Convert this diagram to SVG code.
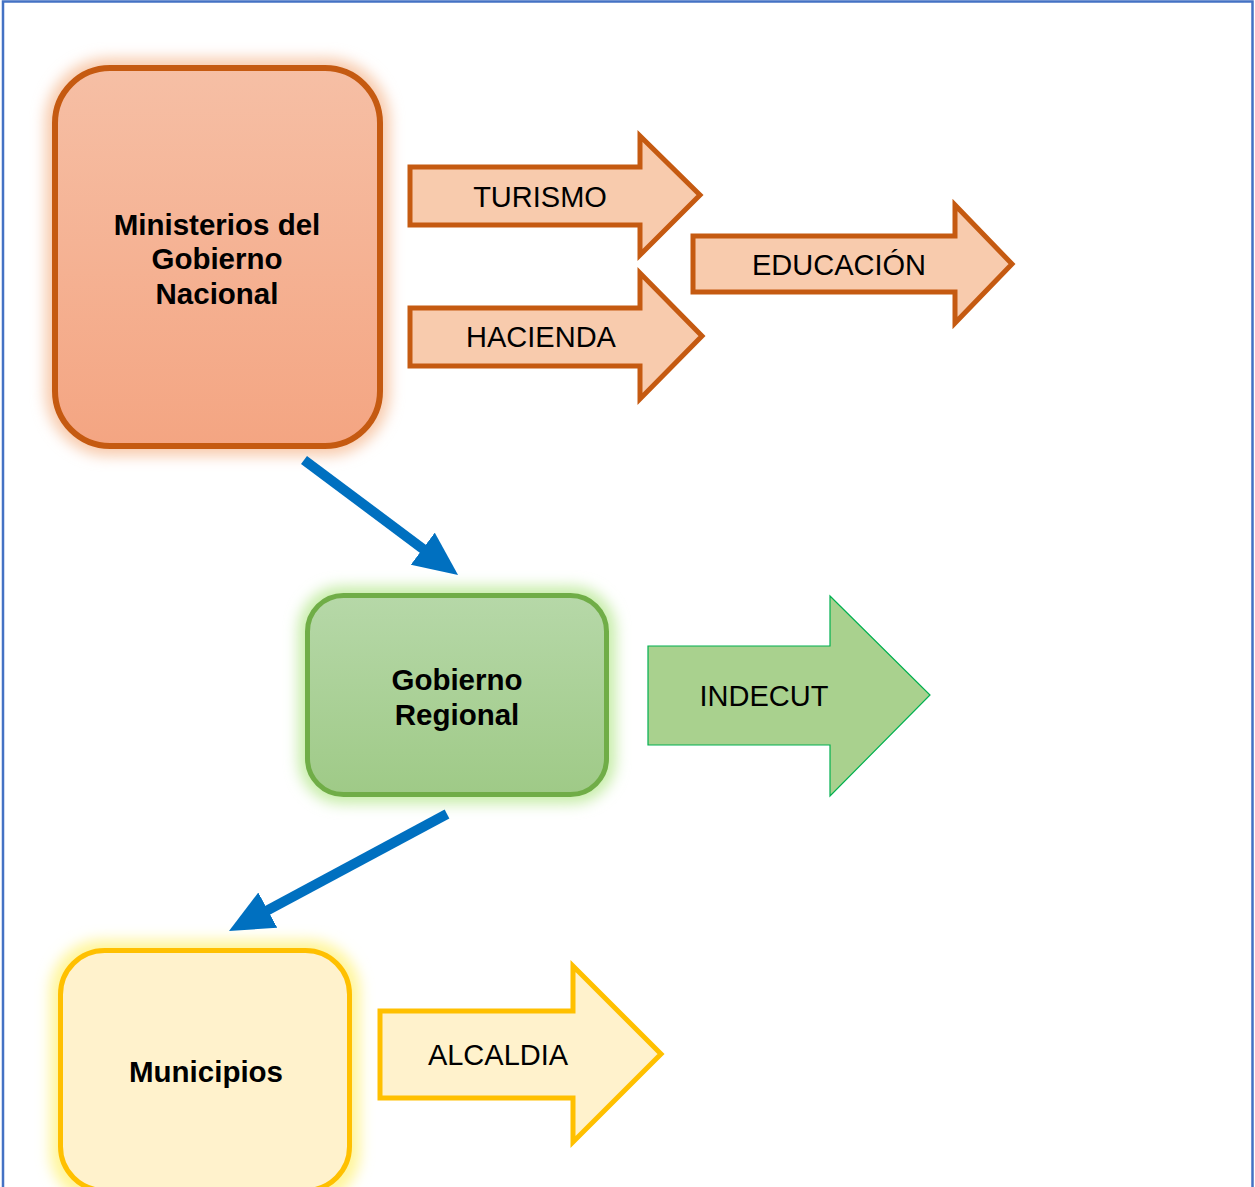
<svg xmlns="http://www.w3.org/2000/svg" width="1255" height="1187" viewBox="0 0 1255 1187">
<defs>
<style>
.lbl{font-family:"Liberation Sans",Arial,sans-serif;font-size:29px;fill:#000;text-anchor:middle;dominant-baseline:central}
.b{font-weight:bold;font-size:29.5px}
.orArrow{fill:#F8CBAD;stroke:#C55A11;stroke-width:5}
.conn{stroke:#0070C0;stroke-width:10;fill:none}
</style>
<linearGradient id="gOr" x1="0" y1="0" x2="0" y2="1"><stop offset="0" stop-color="#F6BFA5"/><stop offset="1" stop-color="#F4A582"/></linearGradient>
<linearGradient id="gGr" x1="0" y1="0" x2="0" y2="1"><stop offset="0" stop-color="#B6D8A8"/><stop offset="1" stop-color="#9FCA87"/></linearGradient>
<filter id="glow" x="-20%" y="-20%" width="140%" height="140%"><feGaussianBlur stdDeviation="7"/></filter>
<marker id="ah" markerUnits="userSpaceOnUse" markerWidth="50" markerHeight="44" refX="2" refY="20" orient="auto"><path d="M0,0 L44,20 L0,40 Z" fill="#0070C0"/></marker>
</defs>
<rect x="0" y="0" width="1255" height="1187" fill="#fff"/>
<rect x="3" y="1.5" width="1249.5" height="1200" fill="none" stroke="#4472C4" stroke-width="2.5"/>

<g id="ministerios">
<rect x="45" y="58" width="345" height="398" rx="64" fill="#F8CBAD" filter="url(#glow)"/>
<rect x="55" y="68" width="325" height="378" rx="55" fill="url(#gOr)" stroke="#C55A11" stroke-width="6"/>
<text class="lbl b" x="217" y="224">Ministerios del</text>
<text class="lbl b" x="217" y="258">Gobierno</text>
<text class="lbl b" x="217" y="293">Nacional</text>
</g>

<g id="turismo">
<polygon class="orArrow" points="410,167 640,167 640,136 700,195 640,255 640,225 410,225"/>
<text class="lbl" x="540" y="197">TURISMO</text>
</g>

<g id="hacienda">
<polygon class="orArrow" points="410,308 640,308 640,273 702,336 640,399 640,366 410,366"/>
<text class="lbl" x="541" y="337">HACIENDA</text>
</g>

<g id="educacion">
<polygon class="orArrow" points="693,236 955,236 955,205 1012,264 955,323 955,292 693,292"/>
<text class="lbl" x="839" y="265">EDUCACIÓN</text>
</g>

<g id="gobierno-regional">
<rect x="298" y="586" width="318" height="218" rx="44" fill="#C8EDAA" filter="url(#glow)"/>
<rect x="307.5" y="595.5" width="299" height="199" rx="36" fill="url(#gGr)" stroke="#70AD47" stroke-width="5"/>
<text class="lbl b" x="457" y="679">Gobierno</text>
<text class="lbl b" x="457" y="714">Regional</text>
</g>

<g id="indecut">
<polygon points="648,646 830,646 830,596 930,695 830,796 830,745 648,745" fill="#A9D18E" stroke="#00B050" stroke-width="1.2"/>
<text class="lbl" x="764" y="696">INDECUT</text>
</g>

<g id="municipios">
<rect x="50" y="940" width="310" height="264" rx="52" fill="#FFF59A" filter="url(#glow)"/>
<rect x="60.5" y="950.5" width="289" height="240" rx="44" fill="#FFF2CC" stroke="#FFC000" stroke-width="5"/>
<text class="lbl b" x="206" y="1071">Municipios</text>
</g>

<g id="alcaldia">
<polygon points="380,1011 573,1011 573,966 661,1054 573,1142 573,1098 380,1098" fill="#FFF2CC" stroke="#FFC000" stroke-width="5"/>
<text class="lbl" x="498" y="1055">ALCALDIA</text>
</g>

<g id="connectors">
<line class="conn" x1="304" y1="460" x2="424.4" y2="549.9" marker-end="url(#ah)"/>
<line class="conn" x1="447" y1="814" x2="266" y2="911.1" marker-end="url(#ah)"/>
</g>
</svg>
